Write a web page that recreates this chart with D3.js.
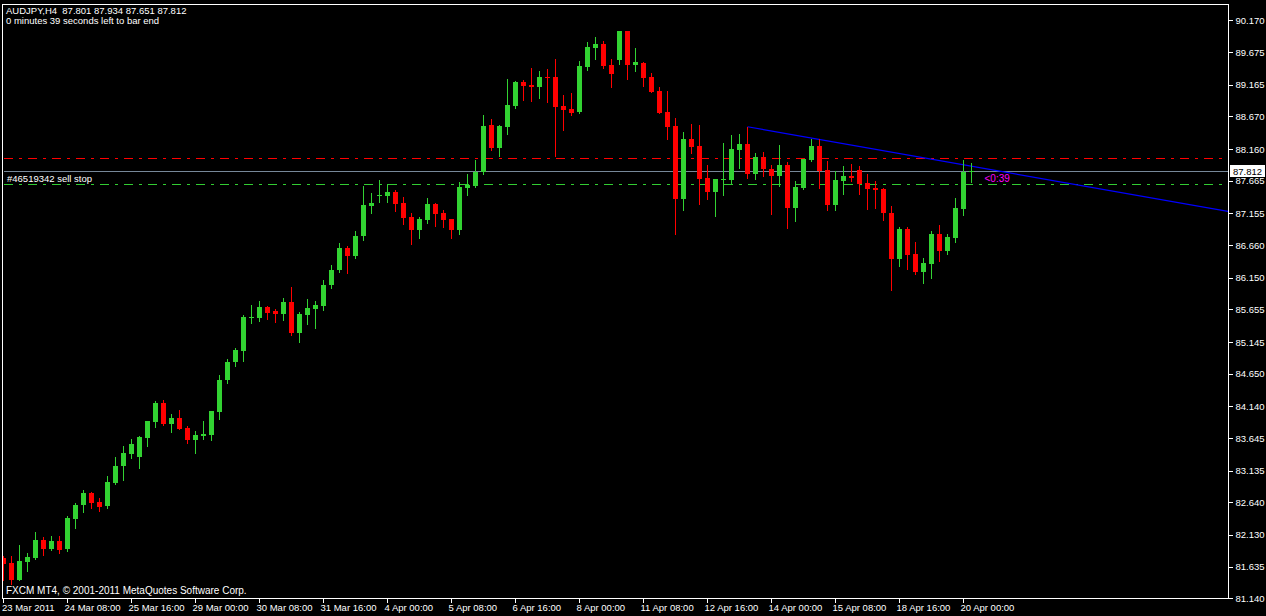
<!DOCTYPE html>
<html><head><meta charset="utf-8">
<script src="https://cdn.jsdelivr.net/npm/d3@7/dist/d3.min.js"></script>
<style>html,body{margin:0;padding:0;background:#000;overflow:hidden}</style>
</head><body>
<svg id="chart" width="1266" height="616"></svg>
<script>
// ---- data (AUDJPY H4, bar 0 = 23 Mar 2011) ----
const opens = [81.77,81.69,81.43,81.71,81.77,82.05,81.91,82.03,81.91,82.38,
82.60,82.79,82.64,82.58,82.94,83.20,83.40,83.35,83.65,83.90,
84.19,83.86,83.96,83.80,83.61,83.68,83.69,84.05,84.55,84.83,
85.00,85.52,85.52,85.69,85.63,85.58,85.77,85.29,85.57,85.66,
85.71,86.04,86.27,86.61,86.49,86.80,87.27,87.43,87.43,87.49,
87.32,87.10,86.89,87.05,87.30,87.16,87.07,86.89,87.55,87.58,
87.80,88.53,88.18,88.50,88.83,89.21,89.16,89.13,89.29,89.28,
88.83,88.78,88.74,89.44,89.74,89.80,89.47,89.55,90.00,89.47,
89.50,89.28,89.07,88.74,88.52,87.38,88.32,88.21,87.71,87.49,
87.67,87.68,88.14,88.24,87.77,88.03,87.85,87.74,87.91,87.24,
87.55,87.99,88.21,87.83,87.29,87.66,87.74,87.83,87.63,87.55,
87.54,87.16,86.44,86.91,86.52,86.24,86.36,86.83,86.57,86.77,
87.22,87.801];
const highs = [81.80,81.80,81.97,81.85,82.18,82.10,82.11,82.11,82.43,82.63,
82.83,82.80,82.71,83.05,83.35,83.52,83.63,83.68,83.91,84.22,
84.24,84.02,84.08,83.83,83.75,83.91,84.07,84.63,84.88,85.05,
85.57,85.72,85.78,85.71,85.66,85.83,86.00,85.61,85.82,85.79,
86.11,86.35,86.69,86.64,86.88,87.58,87.47,87.68,87.61,87.52,
87.41,87.16,87.10,87.39,87.31,87.21,87.07,87.64,87.77,87.99,
88.69,88.63,88.54,89.25,89.22,89.24,89.43,89.38,89.41,89.57,
89.00,89.04,89.54,89.83,89.91,89.85,89.57,90.00,90.01,89.74,
89.52,89.35,89.13,89.07,88.64,88.43,88.55,88.54,87.91,87.69,
88.25,88.38,88.39,88.50,88.10,88.11,87.91,88.22,87.96,87.66,
88.00,88.32,88.32,87.97,87.82,87.89,87.93,87.89,87.77,87.66,
87.55,87.27,86.94,86.94,86.71,86.46,86.88,86.97,86.83,87.39,
87.99,87.934];
const lows = [81.43,81.36,81.42,81.57,81.76,81.82,81.89,81.84,81.88,82.24,
82.49,82.55,82.50,82.55,82.93,82.99,83.33,83.18,83.52,83.82,
83.84,83.74,83.78,83.57,83.41,83.63,83.61,83.94,84.50,84.77,
84.85,85.44,85.47,85.50,85.46,85.49,85.25,85.14,85.43,85.36,
85.64,85.99,86.24,86.22,86.46,86.74,87.16,87.33,87.33,87.19,
86.99,86.68,86.77,87.00,86.96,86.94,86.77,86.83,87.44,87.57,
87.77,88.14,88.05,88.39,88.80,88.93,88.91,88.96,88.89,88.05,
88.46,88.69,88.72,89.39,89.57,89.43,89.13,89.49,89.25,89.38,
89.14,89.05,88.72,88.32,86.83,87.21,88.10,87.30,87.38,87.11,
87.44,87.63,87.86,87.71,87.69,87.74,87.14,87.58,86.93,87.04,
87.54,87.98,87.55,87.21,87.21,87.46,87.66,87.46,87.22,87.24,
87.05,85.96,86.33,86.29,86.21,86.07,86.14,86.41,86.52,86.71,
87.13,87.651];
const closes = [81.68,81.43,81.72,81.79,82.05,81.91,82.03,81.89,82.39,82.60,
82.79,82.63,82.57,82.96,83.21,83.41,83.55,83.66,83.91,84.19,
83.87,83.96,83.79,83.61,83.69,83.71,84.07,84.55,84.83,85.02,
85.53,85.53,85.69,85.60,85.58,85.77,85.29,85.58,85.68,85.72,
86.04,86.27,86.61,86.49,86.80,87.29,87.32,87.44,87.49,87.30,
87.08,86.89,87.07,87.30,87.14,87.05,86.89,87.57,87.60,87.80,
88.52,88.18,88.52,88.85,89.21,89.14,89.13,89.29,89.27,88.82,
88.77,88.72,89.46,89.75,89.80,89.46,89.33,90.00,89.47,89.52,
89.27,89.05,88.72,88.50,87.38,88.32,88.19,87.69,87.49,87.69,
87.69,88.16,88.24,87.77,88.03,87.85,87.74,87.91,87.24,87.57,
88.00,88.21,87.82,87.29,87.68,87.74,87.71,87.61,87.54,87.52,
87.16,86.44,86.91,86.50,86.24,86.38,86.83,86.57,86.79,87.24,
87.80,87.812];

const timeLabels = ["23 Mar 2011","24 Mar 08:00","25 Mar 16:00","29 Mar 00:00","30 Mar 08:00",
"31 Mar 16:00","4 Apr 00:00","5 Apr 08:00","6 Apr 16:00","8 Apr 00:00","11 Apr 08:00",
"12 Apr 16:00","14 Apr 00:00","15 Apr 08:00","18 Apr 16:00","20 Apr 00:00"];
const timeLabelBars = [0,8,16,24,32,40,48,56,64,72,80,88,96,104,112,120];
const priceTicks = [90.170,89.675,89.165,88.670,88.160,87.665,87.155,86.660,86.150,85.655,
85.145,84.650,84.140,83.645,83.135,82.640,82.130,81.635,81.140];

const headerLine1 = "AUDJPY,H4  87.801 87.934 87.651 87.812";
const headerLine2 = "0 minutes 39 seconds left to bar end";
const footerText = "FXCM MT4, \u00A9 2001-2011 MetaQuotes Software Corp.";
const bidPrice = 87.812;
const sellStopPrice = 87.605;
const sellStopLabel = "#46519342 sell stop";
const alertPrice = 88.012;
const trendBars = [93, 120];
const trendPrices = [88.508, 87.913];
const timerText = "<0:39";

// ---- layout ----
const W = 1266, H = 616;
const plot = {left: 2.5, top: 4.5, right: 1228.5, bottom: 598.5};
const FONT = "'Liberation Sans', Arial, sans-serif";

const svg = d3.select("#chart");
svg.append("rect").attr("width", W).attr("height", H).attr("fill", "#000");

const x = d3.scaleLinear().domain([0, 121]).range([3.5, 971.5]);
const y = d3.scaleLinear().domain([81.140, 90.170]).range([598.28, 20.36]);

svg.append("defs").append("clipPath").attr("id", "plotclip")
  .append("rect").attr("x", 3).attr("y", 5).attr("width", 1225).attr("height", 593);

const g = svg.append("g").attr("clip-path", "url(#plotclip)");

// horizontal lines (behind candles)
const hline = (p, color, dash) => g.append("line")
  .attr("x1", 4).attr("x2", 1228).attr("y1", Math.floor(y(p)) + 0.5).attr("y2", Math.floor(y(p)) + 0.5)
  .attr("stroke", color).attr("stroke-width", 1).attr("stroke-dasharray", dash)
  .attr("shape-rendering", "crispEdges");
hline(alertPrice, "#ff0000", "9,6,3,6");
hline(sellStopPrice, "#32cd32", "9,6,3,6");
hline(bidPrice, "#778899", null);

// trend line (ray)
const slope = (trendPrices[1] - trendPrices[0]) / (trendBars[1] - trendBars[0]);
const endBar = x.invert(1228);
g.append("line")
  .attr("x1", x(trendBars[0])).attr("y1", y(trendPrices[0]))
  .attr("x2", x(endBar)).attr("y2", y(trendPrices[0] + slope * (endBar - trendBars[0])))
  .attr("stroke", "#0000ff").attr("stroke-width", 1.2);

// candles
const bars = d3.range(opens.length).map(i => ({i, o: opens[i], h: highs[i], l: lows[i], c: closes[i]}));
const UP = "#32d232", DOWN = "#ff0000";
const cg = g.append("g").attr("shape-rendering", "crispEdges");
cg.selectAll("line.wick").data(bars).join("line").attr("class", "wick")
  .attr("x1", d => x(d.i)).attr("x2", d => x(d.i))
  .attr("y1", d => Math.round(y(d.h))).attr("y2", d => Math.round(y(d.l)) + 1)
  .attr("stroke", d => d.c >= d.o ? UP : DOWN).attr("stroke-width", 1);
cg.selectAll("rect.body").data(bars.filter(d => d.i < 121)).join("rect").attr("class", "body")
  .attr("x", d => x(d.i) - 2.5).attr("width", 5)
  .attr("y", d => Math.round(y(Math.max(d.o, d.c))))
  .attr("height", d => Math.max(1, Math.round(y(Math.min(d.o, d.c))) - Math.round(y(Math.max(d.o, d.c)))))
  .attr("fill", d => d.c >= d.o ? UP : DOWN);
// current bar: open/close tick
cg.append("line").attr("x1", x(121) - 2.5).attr("x2", x(121) + 2.5)
  .attr("y1", Math.round(y(closes[121])) + 0.5).attr("y2", Math.round(y(closes[121])) + 0.5)
  .attr("stroke", UP);

// labels inside plot
g.append("text").attr("x", 7).attr("y", 182).text(sellStopLabel)
  .attr("fill", "#ffffff").attr("font-family", FONT).attr("font-size", 9.5);
g.append("text").attr("x", x(121) + 13).attr("y", 182).text(timerText)
  .attr("fill", "#ff00ff").attr("font-family", FONT).attr("font-size", 10);

// frame
svg.append("rect").attr("x", plot.left).attr("y", plot.top)
  .attr("width", plot.right - plot.left).attr("height", plot.bottom - plot.top)
  .attr("fill", "none").attr("stroke", "#ffffff").attr("shape-rendering", "crispEdges");

// price axis
const yAxis = d3.axisRight(y).tickValues(priceTicks).tickSize(4).tickPadding(3)
  .tickFormat(d3.format(".3f"));
const ya = svg.append("g").attr("transform", `translate(${plot.right},0)`).call(yAxis);
ya.select(".domain").remove();
ya.selectAll("line").attr("stroke", "#fff").attr("shape-rendering", "crispEdges");
ya.selectAll("text").attr("fill", "#fff").attr("font-family", FONT).attr("font-size", 9.5);

// bid price box
const by = y(bidPrice);
svg.append("rect").attr("x", 1230).attr("y", Math.round(by) - 6).attr("width", 35).attr("height", 12)
  .attr("fill", "#fff");
svg.append("text").attr("x", 1233).attr("y", Math.round(by) + 4).text(bidPrice.toFixed(3))
  .attr("fill", "#000").attr("font-family", FONT).attr("font-size", 9.5);

// time axis
const xa = svg.append("g");
xa.selectAll("line").data(timeLabelBars).join("line")
  .attr("x1", d => Math.round(x(d)) - 0.5).attr("x2", d => Math.round(x(d)) - 0.5)
  .attr("y1", plot.bottom).attr("y2", plot.bottom + 4)
  .attr("stroke", "#fff").attr("shape-rendering", "crispEdges");
xa.selectAll("text").data(timeLabelBars).join("text")
  .attr("x", d => Math.max(2, x(d) - 3)).attr("y", 611)
  .text((d, k) => timeLabels[k])
  .attr("fill", "#fff").attr("font-family", FONT).attr("font-size", 9.5);

// header & footer
svg.append("text").attr("x", 6).attr("y", 14).text(headerLine1).attr("xml:space", "preserve")
  .style("white-space", "pre")
  .attr("fill", "#fff").attr("font-family", FONT).attr("font-size", 9.5);
svg.append("text").attr("x", 6).attr("y", 24).text(headerLine2)
  .attr("fill", "#fff").attr("font-family", FONT).attr("font-size", 9.5);
svg.append("text").attr("x", 6).attr("y", 594).text(footerText)
  .attr("fill", "#fff").attr("font-family", FONT).attr("font-size", 10);
</script>
</body></html>
